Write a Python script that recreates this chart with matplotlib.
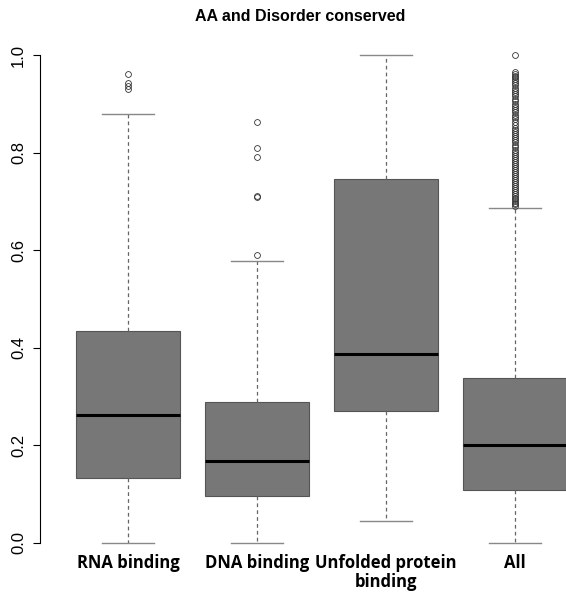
import matplotlib
matplotlib.use("Agg")
import matplotlib.pyplot as plt
import matplotlib.transforms as mtransforms

# box statistics
labels = ["RNA binding", "DNA binding", "Unfolded protein\nbinding", "All"]
whislo = [0.0, 0.0, 0.045, 0.0]
q1 = [0.133, 0.096, 0.270, 0.109]
med = [0.262, 0.168, 0.387, 0.201]
q3 = [0.434, 0.289, 0.746, 0.338]
whishi = [0.879, 0.578, 1.0, 0.686]

fliers_rna = [0.961, 0.942, 0.936, 0.930]
fliers_dna = [0.863, 0.810, 0.792, 0.712, 0.709, 0.590]
fliers_all = [1.0, 0.965, 0.962, 0.958, 0.955, 0.951, 0.946, 0.942, 0.938, 0.933,
              0.929, 0.925, 0.921, 0.916, 0.910, 0.905, 0.900, 0.896, 0.892, 0.888,
              0.884, 0.878, 0.873, 0.868, 0.862, 0.856, 0.851, 0.847, 0.842, 0.838,
              0.834, 0.829, 0.825, 0.821, 0.816, 0.811, 0.806, 0.801, 0.797, 0.793,
              0.789, 0.785, 0.780, 0.776, 0.772, 0.768, 0.764, 0.760, 0.756, 0.752,
              0.748, 0.744, 0.740, 0.736, 0.732, 0.728, 0.724, 0.720, 0.716, 0.712,
              0.708, 0.704, 0.700, 0.697, 0.694, 0.691]
fliers = [fliers_rna, fliers_dna, [], fliers_all]

stats = []
for i in range(len(labels)):
    stats.append(dict(whislo=whislo[i], q1=q1[i], med=med[i], q3=q3[i],
                      whishi=whishi[i], fliers=fliers[i], label=labels[i]))

fig = plt.figure(figsize=(5.66, 5.95), dpi=100)
ax = fig.add_axes([40 / 566, 32.5 / 595, 560 / 566, 527 / 595])

ax.bxp(stats, positions=[1, 2, 3, 4], widths=0.8, capwidths=0.4,
       patch_artist=True, showfliers=True,
       boxprops=dict(facecolor="#777777", edgecolor="#555555", linewidth=0.8),
       medianprops=dict(color="black", linewidth=2.2),
       whiskerprops=dict(color="#666666", linewidth=0.9, linestyle=(0, (3, 2.5))),
       capprops=dict(color="#888888", linewidth=1.0),
       flierprops=dict(marker="o", markersize=4.2, markerfacecolor="none",
                       markeredgecolor="#333333", markeredgewidth=0.6))

ax.set_xlim(0.317, 4.66)
ax.set_ylim(-0.04, 1.04)
for s in ["top", "right", "bottom"]:
    ax.spines[s].set_visible(False)
ax.spines["left"].set_bounds(0, 1)
ax.spines["left"].set_linewidth(0.8)
ax.set_xticks([])
ax.set_yticks([0, 0.2, 0.4, 0.6, 0.8, 1.0])
ax.set_yticklabels(["0.0", "0.2", "0.4", "0.6", "0.8", "1.0"], rotation=90,
                   va="center", fontsize=12, family="Liberation Sans")
ax.tick_params(axis="y", length=5, width=0.8, pad=5)

trans = mtransforms.blended_transform_factory(ax.transData, fig.transFigure)
for i, lab in enumerate(labels):
    ax.text(i + 1, 1 - 554 / 595, lab, transform=trans, ha="center", va="top",
            fontsize=12, fontweight="bold", family="Open Sans", linespacing=1.1)

fig.text(300 / 566, 1 - 16.5 / 595, "AA and Disorder conserved", ha="center",
         va="center", fontsize=11.5, fontweight="bold", family="Liberation Sans")

fig.savefig("out.png", dpi=100)
